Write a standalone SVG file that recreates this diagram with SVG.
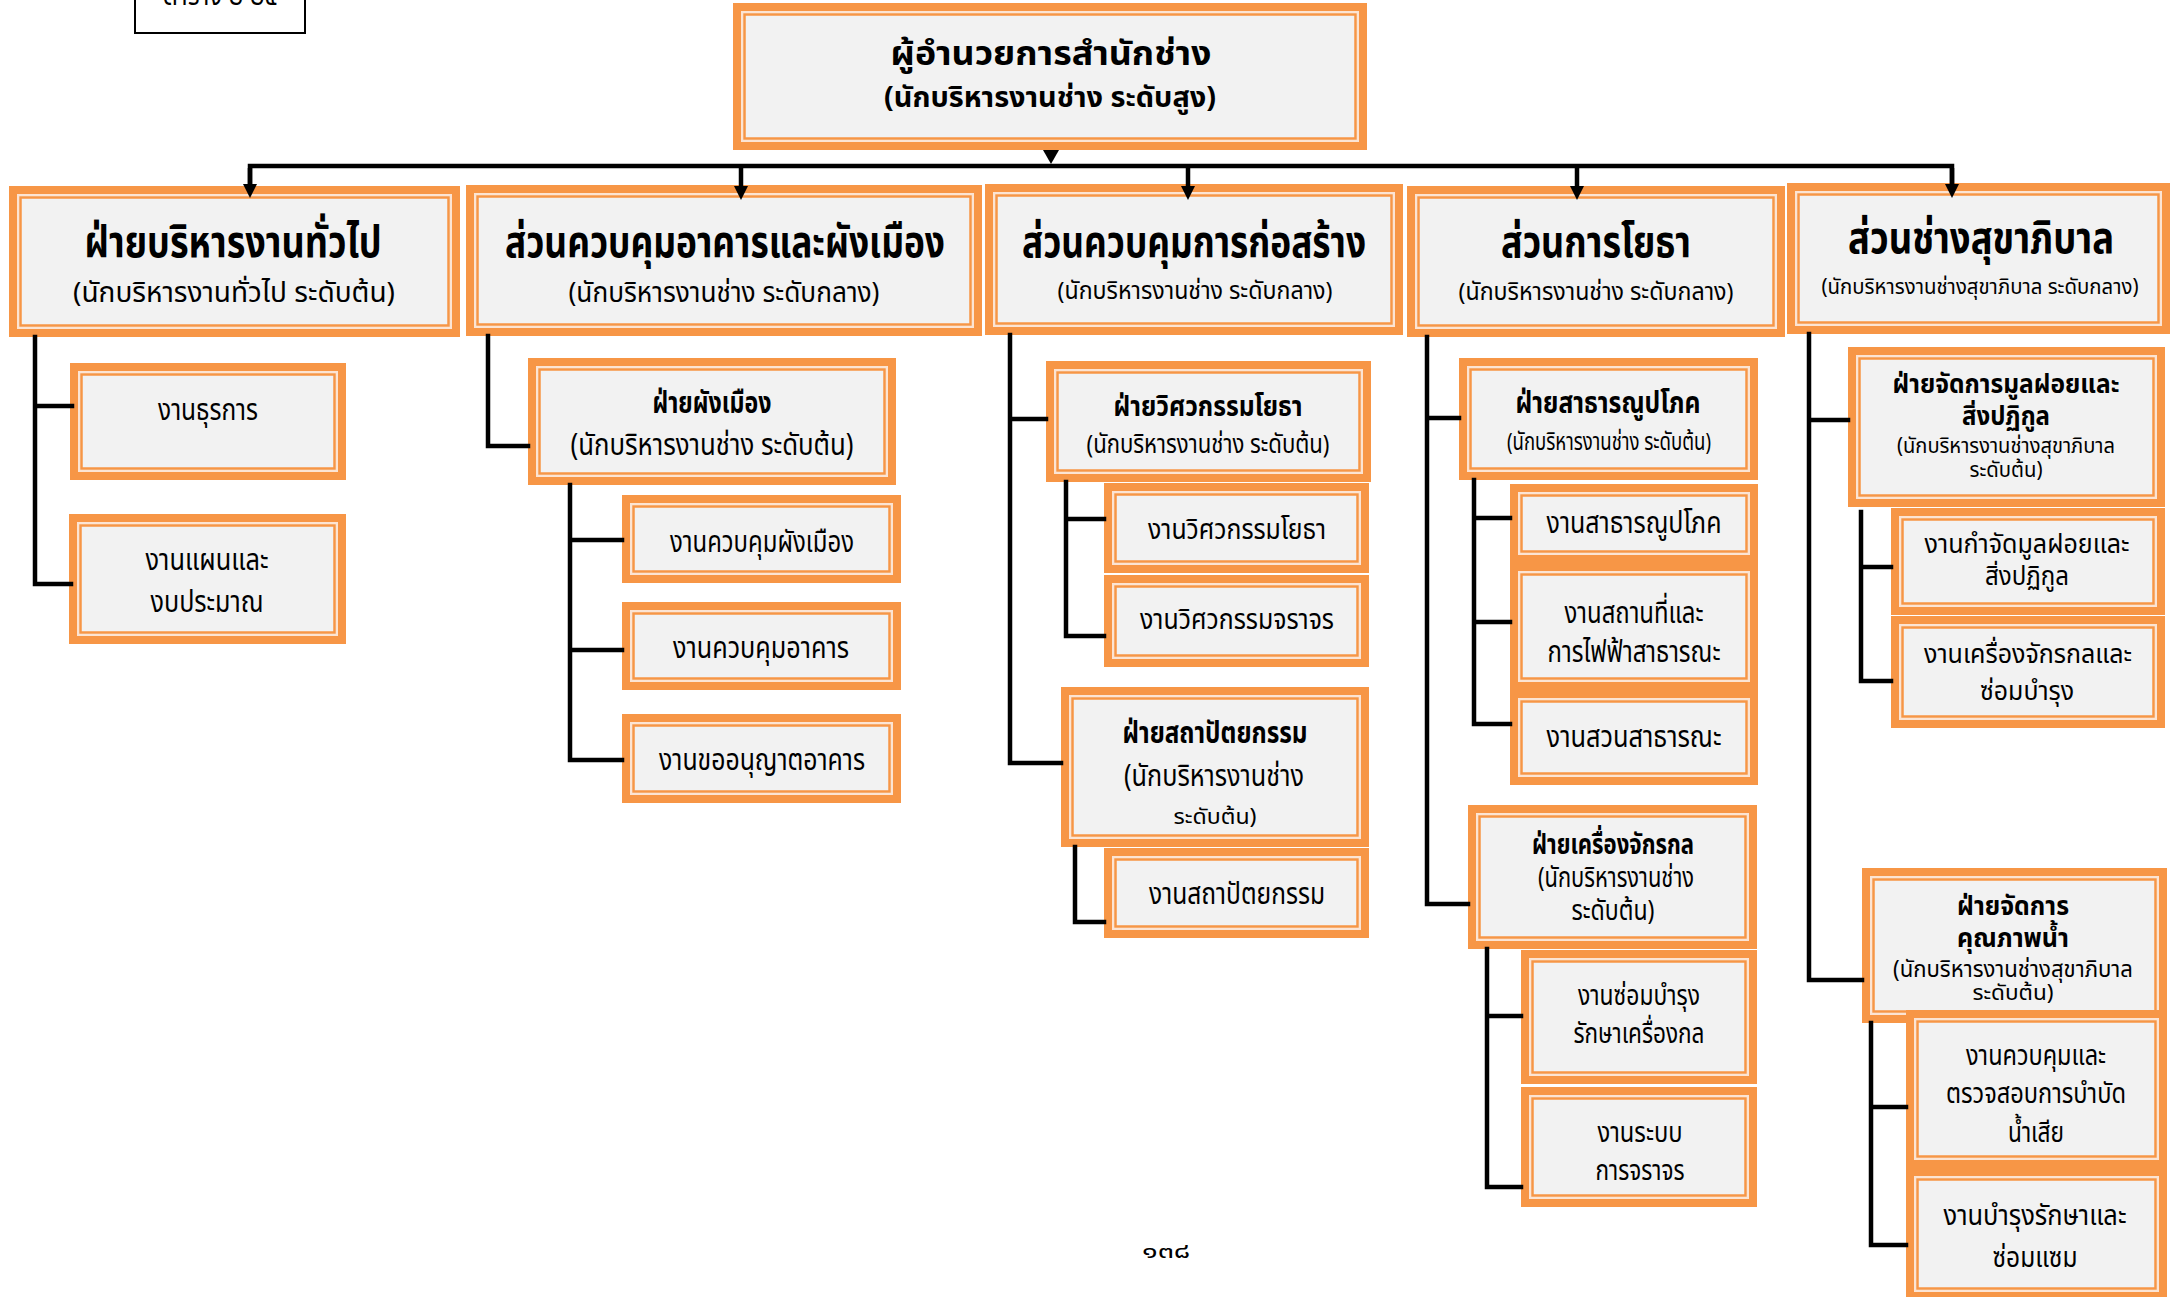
<svg xmlns="http://www.w3.org/2000/svg" width="2170" height="1297" viewBox="0 0 2170 1297">
<style>
.o{fill:#f79646}
.l{fill:#f2f2f2;stroke:#fce4d3;stroke-width:2}
.m{fill:none;stroke:#f79646;stroke-width:2.5}
.t{font-family:"Noto Sans Thai","Noto Sans","DejaVu Sans",sans-serif;fill:#000;text-anchor:middle}
.b{font-weight:bold}
.c{fill:none;stroke:#000;stroke-width:4.5;stroke-linejoin:miter;stroke-linecap:square}
.d{fill:none;stroke:#000;stroke-width:4.5}
</style>
<defs>
<marker id="arr" viewBox="0 0 10 10" refX="0" refY="5" markerUnits="userSpaceOnUse" markerWidth="15" markerHeight="14" orient="auto"><path d="M0,0 L10,5 L0,10 z" fill="#000"/></marker>
</defs>
<rect width="2170" height="1297" fill="#fff"/>

<g id="label-box">
<rect x="135" y="-12" width="170" height="45" fill="#fff" stroke="#000" stroke-width="2"/>
<text class="t" x="220" y="5" font-size="30" textLength="115" lengthAdjust="spacingAndGlyphs">ตาราง ๒ ๒๕</text>
</g>

<g id="n-top">
<rect class="o" x="733" y="3" width="634" height="147"/>
<rect class="l" x="742" y="12" width="616" height="129"/>
<rect class="m" x="744.5" y="14.5" width="611" height="124"/>
<text class="t b" x="1051" y="65" font-size="34" textLength="321" lengthAdjust="spacingAndGlyphs">ผู้อำนวยการสำนักช่าง</text>
<text class="t b" x="1050" y="107" font-size="29" textLength="332" lengthAdjust="spacingAndGlyphs">(นักบริหารงานช่าง ระดับสูง)</text>
</g>

<g id="n-b1">
<rect class="o" x="9" y="186" width="451" height="151"/>
<rect class="l" x="18" y="195" width="433" height="133"/>
<rect class="m" x="20.5" y="197.5" width="428" height="128"/>
<text class="t b" x="233" y="257" font-size="44" textLength="297" lengthAdjust="spacingAndGlyphs">ฝ่ายบริหารงานทั่วไป</text>
<text class="t" x="234" y="302" font-size="28" textLength="322" lengthAdjust="spacingAndGlyphs">(นักบริหารงานทั่วไป ระดับต้น)</text>
</g>
<g id="n-b2">
<rect class="o" x="466" y="185" width="516" height="151"/>
<rect class="l" x="475" y="194" width="498" height="133"/>
<rect class="m" x="477.5" y="196.5" width="493" height="128"/>
<text class="t b" x="725" y="257" font-size="44" textLength="440" lengthAdjust="spacingAndGlyphs">ส่วนควบคุมอาคารและผังเมือง</text>
<text class="t" x="724" y="302" font-size="28" textLength="311" lengthAdjust="spacingAndGlyphs">(นักบริหารงานช่าง ระดับกลาง)</text>
</g>
<g id="n-b3">
<rect class="o" x="985" y="184" width="418" height="151"/>
<rect class="l" x="994" y="193" width="400" height="133"/>
<rect class="m" x="996.5" y="195.5" width="395" height="128"/>
<text class="t b" x="1194" y="257" font-size="44" textLength="344" lengthAdjust="spacingAndGlyphs">ส่วนควบคุมการก่อสร้าง</text>
<text class="t" x="1195" y="299" font-size="24" textLength="275" lengthAdjust="spacingAndGlyphs">(นักบริหารงานช่าง ระดับกลาง)</text>
</g>
<g id="n-b4">
<rect class="o" x="1407" y="186" width="378" height="151"/>
<rect class="l" x="1416" y="195" width="360" height="133"/>
<rect class="m" x="1418.5" y="197.5" width="355" height="128"/>
<text class="t b" x="1596" y="257" font-size="44" textLength="190" lengthAdjust="spacingAndGlyphs">ส่วนการโยธา</text>
<text class="t" x="1596" y="300" font-size="24" textLength="275" lengthAdjust="spacingAndGlyphs">(นักบริหารงานช่าง ระดับกลาง)</text>
</g>
<g id="n-b5">
<rect class="o" x="1787" y="183" width="383" height="151"/>
<rect class="l" x="1796" y="192" width="365" height="133"/>
<rect class="m" x="1798.5" y="194.5" width="360" height="128"/>
<text class="t b" x="1981" y="253" font-size="44" textLength="266" lengthAdjust="spacingAndGlyphs">ส่วนช่างสุขาภิบาล</text>
<text class="t" x="1980" y="294" font-size="22" textLength="317" lengthAdjust="spacingAndGlyphs">(นักบริหารงานช่างสุขาภิบาล ระดับกลาง)</text>
</g>

<g id="n-b1a">
<rect class="o" x="70" y="363" width="276" height="117"/>
<rect class="l" x="79" y="372" width="258" height="99"/>
<rect class="m" x="81.5" y="374.5" width="253" height="94"/>
<text class="t" x="208" y="420" font-size="30" textLength="100" lengthAdjust="spacingAndGlyphs">งานธุรการ</text>
</g>
<g id="n-b1b">
<rect class="o" x="69" y="514" width="277" height="130"/>
<rect class="l" x="78" y="523" width="259" height="112"/>
<rect class="m" x="80.5" y="525.5" width="254" height="107"/>
<text class="t" x="207" y="570" font-size="30" textLength="123" lengthAdjust="spacingAndGlyphs">งานแผนและ</text>
<text class="t" x="207" y="612" font-size="30" textLength="113" lengthAdjust="spacingAndGlyphs">งบประมาณ</text>
</g>

<g id="n-b2a">
<rect class="o" x="528" y="358" width="368" height="127"/>
<rect class="l" x="537" y="367" width="350" height="109"/>
<rect class="m" x="539.5" y="369.5" width="345" height="104"/>
<text class="t b" x="712" y="413" font-size="30" textLength="119" lengthAdjust="spacingAndGlyphs">ฝ่ายผังเมือง</text>
<text class="t" x="712" y="455" font-size="30" textLength="283" lengthAdjust="spacingAndGlyphs">(นักบริหารงานช่าง ระดับต้น)</text>
</g>
<g id="n-b2b">
<rect class="o" x="622" y="495" width="279" height="88"/>
<rect class="l" x="631" y="504" width="261" height="70"/>
<rect class="m" x="633.5" y="506.5" width="256" height="65"/>
<text class="t" x="762" y="552" font-size="30" textLength="184" lengthAdjust="spacingAndGlyphs">งานควบคุมผังเมือง</text>
</g>
<g id="n-b2c">
<rect class="o" x="622" y="602" width="279" height="88"/>
<rect class="l" x="631" y="611" width="261" height="70"/>
<rect class="m" x="633.5" y="613.5" width="256" height="65"/>
<text class="t" x="761" y="658" font-size="30" textLength="176" lengthAdjust="spacingAndGlyphs">งานควบคุมอาคาร</text>
</g>
<g id="n-b2d">
<rect class="o" x="622" y="714" width="279" height="89"/>
<rect class="l" x="631" y="723" width="261" height="71"/>
<rect class="m" x="633.5" y="725.5" width="256" height="66"/>
<text class="t" x="762" y="770" font-size="30" textLength="206" lengthAdjust="spacingAndGlyphs">งานขออนุญาตอาคาร</text>
</g>

<g id="n-b3a">
<rect class="o" x="1046" y="361" width="325" height="121"/>
<rect class="l" x="1055" y="370" width="307" height="103"/>
<rect class="m" x="1057.5" y="372.5" width="302" height="98"/>
<text class="t b" x="1208" y="416" font-size="28" textLength="189" lengthAdjust="spacingAndGlyphs">ฝ่ายวิศวกรรมโยธา</text>
<text class="t" x="1208" y="453" font-size="26" textLength="243" lengthAdjust="spacingAndGlyphs">(นักบริหารงานช่าง ระดับต้น)</text>
</g>
<g id="n-b3b">
<rect class="o" x="1104" y="483" width="265" height="90"/>
<rect class="l" x="1113" y="492" width="247" height="72"/>
<rect class="m" x="1115.5" y="494.5" width="242" height="67"/>
<text class="t" x="1237" y="539" font-size="28" textLength="178" lengthAdjust="spacingAndGlyphs">งานวิศวกรรมโยธา</text>
</g>
<g id="n-b3c">
<rect class="o" x="1104" y="575" width="265" height="92"/>
<rect class="l" x="1113" y="584" width="247" height="74"/>
<rect class="m" x="1115.5" y="586.5" width="242" height="69"/>
<text class="t" x="1237" y="629" font-size="28" textLength="194" lengthAdjust="spacingAndGlyphs">งานวิศวกรรมจราจร</text>
</g>
<g id="n-b3d">
<rect class="o" x="1061" y="687" width="308" height="160"/>
<rect class="l" x="1070" y="696" width="290" height="142"/>
<rect class="m" x="1072.5" y="698.5" width="285" height="137"/>
<text class="t b" x="1215" y="743" font-size="30" textLength="185" lengthAdjust="spacingAndGlyphs">ฝ่ายสถาปัตยกรรม</text>
<text class="t" x="1214" y="786" font-size="30" textLength="180" lengthAdjust="spacingAndGlyphs">(นักบริหารงานช่าง</text>
<text class="t" x="1215" y="824" font-size="22" textLength="83" lengthAdjust="spacingAndGlyphs">ระดับต้น)</text>
</g>
<g id="n-b3e">
<rect class="o" x="1104" y="848" width="265" height="90"/>
<rect class="l" x="1113" y="857" width="247" height="72"/>
<rect class="m" x="1115.5" y="859.5" width="242" height="67"/>
<text class="t" x="1237" y="904" font-size="30" textLength="176" lengthAdjust="spacingAndGlyphs">งานสถาปัตยกรรม</text>
</g>

<g id="n-b4a">
<rect class="o" x="1459" y="358" width="299" height="122"/>
<rect class="l" x="1468" y="367" width="281" height="104"/>
<rect class="m" x="1470.5" y="369.5" width="276" height="99"/>
<text class="t b" x="1608" y="413" font-size="30" textLength="185" lengthAdjust="spacingAndGlyphs">ฝ่ายสาธารณูปโภค</text>
<text class="t" x="1609" y="450" font-size="24" textLength="204" lengthAdjust="spacingAndGlyphs">(นักบริหารงานช่าง ระดับต้น)</text>
</g>
<g id="n-b4b">
<rect class="o" x="1510" y="484" width="248" height="79"/>
<rect class="l" x="1519" y="493" width="230" height="61"/>
<rect class="m" x="1521.5" y="495.5" width="225" height="56"/>
<text class="t" x="1634" y="533" font-size="30" textLength="175" lengthAdjust="spacingAndGlyphs">งานสาธารณูปโภค</text>
</g>
<g id="n-b4c">
<rect class="o" x="1510" y="563" width="248" height="127"/>
<rect class="l" x="1519" y="572" width="230" height="109"/>
<rect class="m" x="1521.5" y="574.5" width="225" height="104"/>
<text class="t" x="1634" y="623" font-size="30" textLength="139" lengthAdjust="spacingAndGlyphs">งานสถานที่และ</text>
<text class="t" x="1634" y="662" font-size="30" textLength="173" lengthAdjust="spacingAndGlyphs">การไฟฟ้าสาธารณะ</text>
</g>
<g id="n-b4d">
<rect class="o" x="1510" y="690" width="248" height="95"/>
<rect class="l" x="1519" y="699" width="230" height="77"/>
<rect class="m" x="1521.5" y="701.5" width="225" height="72"/>
<text class="t" x="1634" y="747" font-size="30" textLength="175" lengthAdjust="spacingAndGlyphs">งานสวนสาธารณะ</text>
</g>
<g id="n-b4e">
<rect class="o" x="1468" y="805" width="289" height="144"/>
<rect class="l" x="1477" y="814" width="271" height="126"/>
<rect class="m" x="1479.5" y="816.5" width="266" height="121"/>
<text class="t b" x="1613" y="854" font-size="28" textLength="162" lengthAdjust="spacingAndGlyphs">ฝ่ายเครื่องจักรกล</text>
<text class="t" x="1616" y="887" font-size="28" textLength="156" lengthAdjust="spacingAndGlyphs">(นักบริหารงานช่าง</text>
<text class="t" x="1613" y="920" font-size="28" textLength="83" lengthAdjust="spacingAndGlyphs">ระดับต้น)</text>
</g>
<g id="n-b4f">
<rect class="o" x="1521" y="950" width="236" height="134"/>
<rect class="l" x="1530" y="959" width="218" height="116"/>
<rect class="m" x="1532.5" y="961.5" width="213" height="111"/>
<text class="t" x="1639" y="1005" font-size="28" textLength="122" lengthAdjust="spacingAndGlyphs">งานซ่อมบำรุง</text>
<text class="t" x="1639" y="1043" font-size="28" textLength="131" lengthAdjust="spacingAndGlyphs">รักษาเครื่องกล</text>
</g>
<g id="n-b4g">
<rect class="o" x="1521" y="1087" width="236" height="120"/>
<rect class="l" x="1530" y="1096" width="218" height="102"/>
<rect class="m" x="1532.5" y="1098.5" width="213" height="97"/>
<text class="t" x="1640" y="1142" font-size="28" textLength="85" lengthAdjust="spacingAndGlyphs">งานระบบ</text>
<text class="t" x="1640" y="1180" font-size="28" textLength="89" lengthAdjust="spacingAndGlyphs">การจราจร</text>
</g>

<g id="n-b5a">
<rect class="o" x="1848" y="347" width="317" height="160"/>
<rect class="l" x="1857" y="356" width="299" height="142"/>
<rect class="m" x="1859.5" y="358.5" width="294" height="137"/>
<text class="t b" x="2006" y="393" font-size="26" textLength="227" lengthAdjust="spacingAndGlyphs">ฝ่ายจัดการมูลฝอยและ</text>
<text class="t b" x="2006" y="425" font-size="26" textLength="88" lengthAdjust="spacingAndGlyphs">สิ่งปฏิกูล</text>
<text class="t" x="2006" y="453" font-size="22" textLength="218" lengthAdjust="spacingAndGlyphs">(นักบริหารงานช่างสุขาภิบาล</text>
<text class="t" x="2006" y="477" font-size="22" textLength="73" lengthAdjust="spacingAndGlyphs">ระดับต้น)</text>
</g>
<g id="n-b5b">
<rect class="o" x="1891" y="508" width="274" height="107"/>
<rect class="l" x="1900" y="517" width="256" height="89"/>
<rect class="m" x="1902.5" y="519.5" width="251" height="84"/>
<text class="t" x="2027" y="553" font-size="26" textLength="205" lengthAdjust="spacingAndGlyphs">งานกำจัดมูลฝอยและ</text>
<text class="t" x="2027" y="585" font-size="26" textLength="84" lengthAdjust="spacingAndGlyphs">สิ่งปฏิกูล</text>
</g>
<g id="n-b5c">
<rect class="o" x="1891" y="616" width="274" height="112"/>
<rect class="l" x="1900" y="625" width="256" height="94"/>
<rect class="m" x="1902.5" y="627.5" width="251" height="89"/>
<text class="t" x="2028" y="663" font-size="26" textLength="208" lengthAdjust="spacingAndGlyphs">งานเครื่องจักรกลและ</text>
<text class="t" x="2027" y="700" font-size="26" textLength="94" lengthAdjust="spacingAndGlyphs">ซ่อมบำรุง</text>
</g>
<g id="n-b5d">
<rect class="o" x="1862" y="868" width="305" height="155"/>
<rect class="l" x="1871" y="877" width="287" height="137"/>
<rect class="m" x="1873.5" y="879.5" width="282" height="132"/>
<text class="t b" x="2013" y="915" font-size="26" textLength="112" lengthAdjust="spacingAndGlyphs">ฝ่ายจัดการ</text>
<text class="t b" x="2013" y="947" font-size="26" textLength="112" lengthAdjust="spacingAndGlyphs">คุณภาพน้ำ</text>
<text class="t" x="2013" y="977" font-size="23" textLength="240" lengthAdjust="spacingAndGlyphs">(นักบริหารงานช่างสุขาภิบาล</text>
<text class="t" x="2013" y="1000" font-size="21" textLength="81" lengthAdjust="spacingAndGlyphs">ระดับต้น)</text>
</g>
<g id="n-b5e">
<rect class="o" x="1906" y="1010" width="261" height="158"/>
<rect class="l" x="1915" y="1019" width="243" height="140"/>
<rect class="m" x="1917.5" y="1021.5" width="238" height="135"/>
<text class="t" x="2036" y="1065" font-size="28" textLength="140" lengthAdjust="spacingAndGlyphs">งานควบคุมและ</text>
<text class="t" x="2036" y="1103" font-size="28" textLength="180" lengthAdjust="spacingAndGlyphs">ตรวจสอบการบำบัด</text>
<text class="t" x="2036" y="1142" font-size="28" textLength="56" lengthAdjust="spacingAndGlyphs">น้ำเสีย</text>
</g>
<g id="n-b5f">
<rect class="o" x="1906" y="1168" width="261" height="132"/>
<rect class="l" x="1915" y="1177" width="243" height="114"/>
<rect class="m" x="1917.5" y="1179.5" width="238" height="109"/>
<text class="t" x="2035" y="1225" font-size="28" textLength="183" lengthAdjust="spacingAndGlyphs">งานบำรุงรักษาและ</text>
<text class="t" x="2035" y="1267" font-size="28" textLength="85" lengthAdjust="spacingAndGlyphs">ซ่อมแซม</text>
</g>

<g id="connectors">
<polygon points="1043,150 1059,150 1051,164" fill="#000"/>
<path class="c" d="M250,184 V166 H1952 V184"/>
<path class="d" d="M250,168 V184" marker-end="url(#arr)"/>
<path class="d" d="M741,168 V186" marker-end="url(#arr)"/>
<path class="d" d="M1188,168 V186" marker-end="url(#arr)"/>
<path class="d" d="M1577,168 V186" marker-end="url(#arr)"/>
<path class="d" d="M1952,168 V184" marker-end="url(#arr)"/>
<path class="c" d="M35,337 V584 H71 M35,406 H72"/>
<path class="c" d="M488,336 V446 H528"/>
<path class="c" d="M570,485 V760 H622 M570,540 H622 M570,650 H622"/>
<path class="c" d="M1010,335 V763 H1061 M1010,419 H1046"/>
<path class="c" d="M1066,482 V636 H1104 M1066,519 H1104"/>
<path class="c" d="M1075,847 V922 H1104"/>
<path class="c" d="M1427,337 V904 H1468 M1427,418 H1459"/>
<path class="c" d="M1474,480 V724 H1510 M1474,518 H1510 M1474,622 H1510"/>
<path class="c" d="M1487,949 V1187 H1521 M1487,1016 H1521"/>
<path class="c" d="M1809,334 V980 H1862 M1809,420 H1848"/>
<path class="c" d="M1861,512 V681 H1891 M1861,567 H1891"/>
<path class="c" d="M1871,1023 V1245 H1906 M1871,1107 H1906"/>
</g>

<text class="t" x="1166" y="1258" font-size="22" textLength="48" lengthAdjust="spacingAndGlyphs">๑๓๘</text>
</svg>
